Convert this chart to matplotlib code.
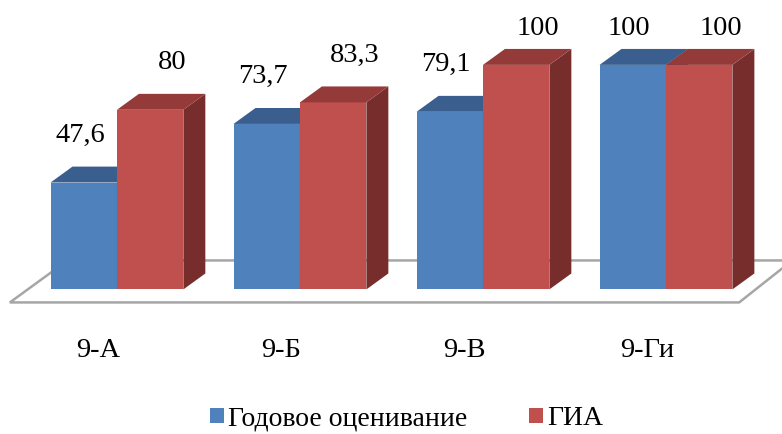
import numpy as np
import matplotlib
matplotlib.use("Agg")
from matplotlib import pyplot as plt
from matplotlib.patches import Polygon

FONT = 'Liberation Serif'

# Данные
classes = ['9-А', '9-Б', '9-В', '9-Ги']
godovoe = [47.6, 73.7, 79.1, 100]
gia = [80, 83.3, 100, 100]
series_names = ['Годовое оценивание', 'ГИА']

# Цвета (лицо, верх, бок)
blue = ('#4F81BD', '#3A5F8E', '#2F4D74')
red = ('#C0504D', '#943B39', '#772D2B')

fig = plt.figure(figsize=(7.82, 4.34), dpi=100)
ax = fig.add_axes([0, 0, 1, 1])
ax.set_xlim(-0.639, 3.634)
ax.set_ylim(-64.4, 128.9)
ax.axis('off')

x = np.arange(len(classes))
w = 0.363          # ширина столбца
dx, dy = 0.12, 7.1  # глубина (псевдо-3D)

# Пол
floor = Polygon([(-0.585, -5.8), (3.40, -5.8), (3.69, 12.9), (-0.27, 12.9)],
                closed=True, facecolor='white', edgecolor='#A6A6A6', lw=1.8, zorder=1)
ax.add_patch(floor)


def bar3d(xs, vals, cols, label):
    bars = ax.bar(xs, vals, width=w, align='edge', color=cols[0], zorder=3, label=label)
    for b in bars:
        x0 = b.get_x()
        x1 = x0 + b.get_width()
        h = b.get_height()
        top = Polygon([(x0, h), (x1, h), (x1 + dx, h + dy), (x0 + dx, h + dy)],
                      closed=True, facecolor=cols[1], edgecolor='none', zorder=3)
        side = Polygon([(x1, 0), (x1 + dx, dy), (x1 + dx, h + dy), (x1, h)],
                       closed=True, facecolor=cols[2], edgecolor='none', zorder=3)
        ax.add_patch(side)
        ax.add_patch(top)
    return bars


b1 = bar3d(x - w, godovoe, blue, series_names[0])
b2 = bar3d(x, gia, red, series_names[1])

# Подписи значений
for xi, v in zip(x - w / 2 - 0.02, godovoe):
    ax.text(xi, min(v + 21, 116), str(v).replace('.', ','), ha='center', va='center',
            fontsize=20.5, family=FONT, zorder=5)
for xi, v in zip(x + w / 2 + dx, gia):
    ax.text(xi, min(v + 21, 116), str(v).replace('.', ','), ha='center', va='center',
            fontsize=20.5, family=FONT, zorder=5)

# Подписи категорий
for xi, c in zip(x, classes):
    ax.text(xi - 0.104, -27.3, c, ha='center', va='center', fontsize=20.5, family=FONT)

# Легенда
fig.legend(handles=[b1, b2], labels=series_names, loc='center', bbox_to_anchor=(0.52, 0.035),
           ncol=2, frameon=False, prop={'family': FONT, 'size': 20},
           handlelength=0.5, handleheight=0.5,
           handletextpad=0.15, columnspacing=2.2, borderpad=0)

fig.savefig('out.png', dpi=100)
